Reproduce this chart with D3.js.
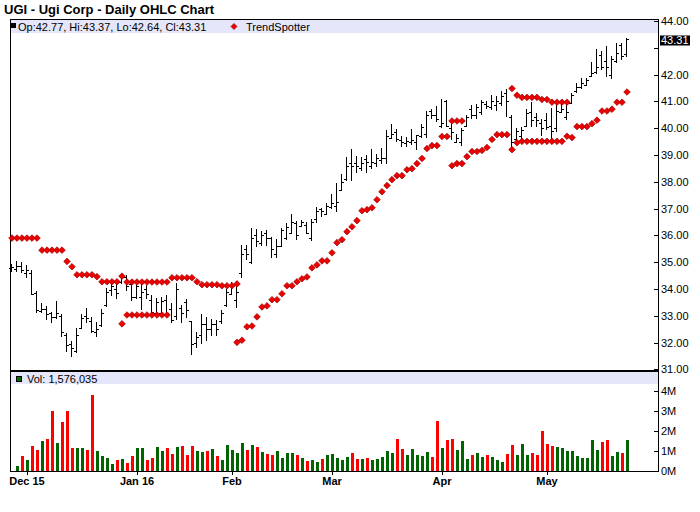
<!DOCTYPE html>
<html>
<head>
<meta charset="utf-8">
<script src="https://cdn.jsdelivr.net/npm/d3@7"></script>
<style>
  body { margin: 0; background: #fff; }
  svg { display: block; font-family: "Liberation Sans", Arial, sans-serif; }
</style>
</head>
<body>
<main></main>
<script>
const title = "UGI - Ugi Corp - Daily OHLC Chart"

// one entry per trading day, 25 Nov 2015 .. 24 May 2016
const opens = [
  34.78, 34.75, 34.85, 34.6, 34.6, 33.85, 33.18, 33.25, 33.1, 32.95,
  33.0, 32.3, 31.95, 31.7, 32.55, 33.0, 32.8, 32.4, 32.65, 33.4,
  33.95, 34.0, 34.25, 34.45, 34.2, 33.7, 33.7, 34.0, 33.6, 33.1,
  33.1, 33.6, 33.25, 33.0, 33.3, 33.5, 32.8, 32.0, 32.3, 32.7,
  32.5, 32.7, 32.8, 33.4, 33.8, 33.6, 34.6, 35.5, 35.0, 36.0,
  35.7, 36.1, 35.9, 35.3, 35.6, 35.9, 36.1, 36.45, 36.35, 36.4,
  35.9, 36.6, 37.0, 36.8, 37.05, 37.1, 37.7, 38.1, 38.7, 38.7,
  38.5, 38.85, 38.6, 38.7, 38.8, 38.9, 39.65, 39.84, 39.55, 39.45,
  39.5, 39.5, 39.7, 39.8, 40.64, 40.5, 40.1, 41.0, 40.0, 39.5,
  39.5, 40.1, 40.71, 40.5, 40.6, 40.9, 40.8, 40.85, 40.95, 41.3,
  40.4, 39.6, 39.7, 40.1, 40.6, 40.4, 40.2, 40.3, 40.1, 40.0,
  40.6, 40.4, 40.95, 41.4, 41.55, 41.6, 41.95, 42.1, 42.75, 42.5,
  42.0, 42.5, 43.1, 42.77,
]
const highs = [
  34.95, 35.03, 35.0, 34.9, 34.72, 33.91, 33.48, 33.36, 33.16, 33.57,
  33.07, 32.35, 32.07, 32.54, 33.05, 33.28, 32.95, 32.76, 33.26, 34.03,
  34.32, 34.22, 34.57, 34.53, 34.32, 34.26, 34.23, 34.16, 33.76, 33.66,
  33.7, 33.78, 33.47, 34.22, 33.41, 33.63, 32.82, 32.39, 33.07, 32.95,
  32.88, 32.85, 33.22, 34.01, 34.26, 34.26, 35.63, 35.66, 36.29, 36.25,
  36.16, 36.19, 35.94, 35.88, 36.29, 36.46, 36.81, 36.54, 36.56, 36.5,
  36.62, 37.06, 37.03, 37.21, 37.56, 37.97, 38.3, 38.93, 39.24, 38.97,
  38.93, 38.99, 39.22, 39.05, 39.27, 39.92, 40.17, 39.96, 39.71, 39.68,
  39.96, 39.76, 40.14, 40.64, 40.71, 40.83, 41.08, 41.05, 40.14, 39.8,
  40.01, 40.51, 40.88, 40.92, 41.05, 41.01, 41.23, 41.2, 41.4, 41.45,
  40.49, 39.99, 40.05, 40.7, 40.98, 40.57, 40.36, 40.57, 40.77, 40.95,
  41.02, 40.98, 41.32, 41.7, 41.89, 41.89, 42.48, 42.94, 42.89, 43.07,
  42.69, 43.17, 43.19, 43.37,
]
const lows = [
  34.63, 34.65, 34.6, 34.4, 33.76, 33.11, 33.11, 32.86, 32.72, 32.88,
  32.2, 31.64, 31.48, 31.61, 32.49, 32.74, 32.36, 32.2, 32.57, 33.32,
  33.73, 33.63, 34.19, 33.94, 33.57, 33.63, 33.2, 33.63, 33.01, 32.98,
  32.98, 33.01, 32.72, 32.85, 32.72, 32.91, 31.54, 31.79, 31.95, 32.05,
  32.26, 32.26, 32.7, 33.32, 33.76, 33.3, 34.42, 35.09, 34.92, 35.56,
  35.59, 35.59, 35.17, 35.17, 35.56, 35.81, 36.04, 35.84, 36.31, 36.04,
  35.78, 36.46, 36.69, 36.75, 37.0, 36.87, 37.64, 38.02, 38.02, 38.34,
  38.39, 38.34, 38.49, 38.55, 38.68, 38.68, 39.59, 39.49, 39.3, 39.3,
  39.39, 39.18, 39.64, 39.64, 40.36, 40.24, 40.01, 40.05, 39.55, 39.43,
  39.34, 40.05, 40.34, 40.36, 40.51, 40.71, 40.67, 40.65, 40.82, 40.42,
  39.12, 39.49, 39.58, 40.05, 40.03, 40.05, 39.7, 39.93, 39.4, 39.86,
  40.55, 40.32, 40.9, 41.3, 41.48, 41.57, 41.92, 42.02, 42.17, 41.92,
  41.82, 42.44, 42.54, 42.64,
]
const closes = [
  34.82, 34.85, 34.72, 34.7, 33.82, 33.22, 33.25, 33.05, 32.95, 33.1,
  32.4, 31.9, 31.8, 32.3, 32.9, 32.9, 32.45, 32.5, 33.1, 33.9,
  34.1, 33.85, 34.45, 34.1, 33.7, 34.1, 33.9, 33.8, 33.15, 33.5,
  33.55, 33.1, 32.85, 34.0, 33.1, 33.2, 31.95, 32.2, 32.7, 32.5,
  32.7, 32.5, 33.1, 33.9, 34.1, 33.9, 35.3, 35.3, 35.9, 35.8,
  36.0, 35.9, 35.5, 35.6, 36.2, 36.3, 36.5, 36.0, 36.5, 36.1,
  36.5, 36.9, 36.9, 37.1, 37.2, 37.25, 38.0, 38.6, 38.6, 38.6,
  38.7, 38.75, 38.75, 38.9, 38.9, 39.7, 39.8, 39.6, 39.5, 39.51,
  39.55, 39.74, 40.05, 40.5, 40.5, 40.36, 40.2, 40.1, 39.86, 39.65,
  39.92, 40.42, 40.5, 40.8, 40.98, 40.83, 41.0, 41.0, 41.2, 41.0,
  39.5, 39.9, 39.95, 40.55, 40.3, 40.3, 40.0, 40.05, 39.9, 40.65,
  40.7, 40.6, 41.25, 41.55, 41.7, 41.8, 42.05, 42.3, 42.3, 42.3,
  42.6, 42.8, 42.7, 43.31,
]
// volume in millions of shares (first day has no bar)
const volumes = [
  null, 0.25, 0.75, 0.55, 1.26, 1.06, 1.51, 1.61, 3.02, 1.41,
  2.46, 3.02, 1.16, 1.16, 1.16, 1.06, 3.82, 1.0, 0.75, 0.65,
  0.35, 0.55, 0.6, 0.4, 0.75, 1.16, 1.16, 0.55, 0.65, 1.21,
  1.0, 1.16, 0.85, 1.21, 1.26, 0.8, 1.26, 1.0, 0.95, 1.0,
  1.1, 0.75, 0.55, 1.31, 1.06, 0.9, 1.41, 1.06, 1.31, 1.21,
  0.95, 0.85, 0.8, 1.0, 0.65, 0.9, 0.9, 0.8, 0.65, 0.5,
  0.55, 0.45, 0.6, 0.8, 0.85, 0.65, 0.55, 0.7, 0.9, 0.6,
  0.6, 0.65, 0.55, 0.6, 0.7, 1.0, 0.9, 1.6, 1.1, 0.8,
  1.1, 0.8, 0.75, 0.95, 0.7, 2.51, 1.16, 1.56, 1.61, 1.06,
  1.51, 0.6, 0.8, 0.9, 0.7, 0.8, 0.7, 0.55, 0.45, 0.85,
  1.31, 0.8, 1.36, 0.8, 0.9, 0.8, 2.01, 1.36, 1.26, 1.21,
  1.16, 1.0, 1.0, 0.75, 0.65, 0.65, 1.56, 1.06, 1.46, 1.56,
  0.75, 0.95, 0.9, 1.576035,
]
const trendUpper = [
  35.9, 35.9, 35.9, 35.9, 35.9, 35.9, 35.45, 35.45, 35.45, 35.45,
  35.45, 35.03, 34.83, 34.53, 34.53, 34.53, 34.53, 34.46, 34.27, 34.27,
  34.27, 34.27, 34.48, 34.26, 34.26, 34.26, 34.26, 34.26, 34.26, 34.26,
  34.26, 34.26, 34.42, 34.42, 34.42, 34.42, 34.42, 34.27, 34.16, 34.16,
  34.16, 34.16, 34.12, 34.12, 34.12, 34.19, null, null, null, null,
  null, null, null, null, null, null, null, null, null, null,
  null, null, null, null, null, null, null, null, null, null,
  null, null, null, null, null, null, null, null, null, null,
  null, null, null, null, null, null, null, null, 40.27, 40.27,
  40.27, null, null, null, null, null, null, null, null, null,
  41.48, 41.23, 41.15, 41.15, 41.15, 41.15, 41.07, 41.07, 40.97, 40.97,
  40.97, 40.97, null, null, null, null, null, null, null, null,
  null, null, null, null,
]
const trendLower = [
  null, null, null, null, null, null, null, null, null, null,
  null, null, null, null, null, null, null, null, null, null,
  null, null, 32.7, 33.03, 33.03, 33.03, 33.03, 33.03, 33.03, 33.03,
  33.03, 33.03, null, null, null, null, null, null, null, null,
  null, null, null, null, null, 32.01, 32.09, 32.59, 32.62, 32.96,
  33.33, 33.37, 33.6, 33.6, 33.82, 34.12, 34.12, 34.27, 34.38, 34.45,
  34.79, 34.9, 35.05, 35.05, 35.35, 35.73, 35.84, 36.14, 36.32, 36.55,
  36.92, 36.96, 37.03, 37.33, 37.63, 37.86, 38.08, 38.23, 38.23, 38.45,
  38.49, 38.68, 38.87, 39.24, 39.35, 39.35, 39.69, 39.69, 38.6, 38.68,
  38.68, 38.94, 39.13, 39.13, 39.17, 39.28, 39.58, 39.76, 39.76, 39.76,
  39.2, 39.46, 39.51, 39.51, 39.51, 39.51, 39.51, 39.51, 39.51, 39.51,
  39.51, 39.7, 39.65, 40.06, 40.06, 40.06, 40.17, 40.3, 40.64, 40.64,
  40.71, 40.97, 40.97, 41.35,
]
const monthLabels = ["Dec 15", "Jan 16", "Feb", "Mar", "Apr", "May"]
const monthIndex = [3, 25, 44, 64, 86, 107]
const priceTicks = [31, 32, 33, 34, 35, 36, 37, 38, 39, 40, 41, 42, 43, 44]
const volumeTicks = [0, 1, 2, 3, 4]

const w = 700
const h = 512
const plotLeft = 10
const plotRight = 658
const panelTop = 19
const sepY = 371
const volBottom = 471
const upColor = "#006400"
const downColor = "#ff0000"
const bandColor = "#e6e6fa"

const svg = d3
  .select("main")
  .append("svg")
  .attr("width", w)
  .attr("height", h)

const x = d3.scaleLinear().domain([-0.4, 129.2]).range([plotLeft, plotRight])
const y = d3.scaleLinear().domain([31, 44]).range([369.4, 21])
const yv = d3.scaleLinear().domain([0, 4]).range([volBottom, 391.4])

const days = opens.map((o, i) => ({
  i,
  o,
  h: highs[i],
  l: lows[i],
  c: closes[i],
  v: volumes[i],
}))
const last = days[days.length - 1]

svg
  .append("text")
  .attr("x", 4)
  .attr("y", 14)
  .attr("font-size", "13px")
  .attr("font-weight", "bold")
  .text(title)

// legend bands
svg
  .append("rect")
  .attr("x", plotLeft + 1)
  .attr("y", panelTop + 1)
  .attr("width", plotRight - plotLeft - 1)
  .attr("height", 13)
  .attr("fill", bandColor)
svg
  .append("rect")
  .attr("x", plotLeft + 1)
  .attr("y", sepY + 1)
  .attr("width", plotRight - plotLeft - 1)
  .attr("height", 12)
  .attr("fill", bandColor)

// frame
const frame = svg.append("g").attr("stroke", "#000").attr("shape-rendering", "crispEdges")
frame.append("line").attr("x1", plotLeft).attr("x2", plotRight + 1).attr("y1", panelTop + 0.5).attr("y2", panelTop + 0.5)
frame.append("line").attr("x1", plotLeft + 0.5).attr("x2", plotLeft + 0.5).attr("y1", panelTop).attr("y2", volBottom + 1)
frame.append("line").attr("x1", plotRight + 0.5).attr("x2", plotRight + 0.5).attr("y1", panelTop).attr("y2", volBottom + 1)
frame.append("line").attr("x1", plotLeft).attr("x2", plotRight + 1).attr("y1", volBottom + 0.5).attr("y2", volBottom + 0.5)
frame
  .append("line")
  .attr("x1", plotLeft)
  .attr("x2", plotRight + 1)
  .attr("y1", sepY - 0.5)
  .attr("y2", sepY - 0.5)
  .attr("stroke-width", 2)

// volume bars
svg
  .append("g")
  .attr("shape-rendering", "crispEdges")
  .selectAll("rect")
  .data(days.filter((d) => d.v !== null))
  .enter()
  .append("rect")
  .attr("x", (d) => x(d.i) - 1)
  .attr("y", (d) => yv(d.v))
  .attr("width", 3)
  .attr("height", (d) => yv(0) - yv(d.v))
  .attr("fill", (d) => (d.c >= d.o ? upColor : downColor))

// OHLC bars
svg
  .append("g")
  .attr("stroke", "#000")
  .attr("fill", "none")
  .attr("shape-rendering", "crispEdges")
  .selectAll("path")
  .data(days)
  .enter()
  .append("path")
  .attr("d", (d) => {
    const cx = Math.round(x(d.i)) - 0.5
    const yo = Math.round(y(d.o)) + 0.5
    const yc = Math.round(y(d.c)) + 0.5
    return `M${cx},${y(d.h)}V${y(d.l)}M${cx - 2.5},${yo}H${cx}M${cx},${yc}H${cx + 2.5}`
  })

// TrendSpotter markers
const diamond = (s) => `M0,${-s}L${s},0L0,${s}L${-s},0Z`
const trendPoints = []
trendUpper.forEach((v, i) => v !== null && trendPoints.push({ i, v }))
trendLower.forEach((v, i) => v !== null && trendPoints.push({ i, v }))

svg
  .append("g")
  .selectAll("path")
  .data(trendPoints)
  .enter()
  .append("path")
  .attr("transform", (d) => `translate(${x(d.i)},${y(d.v)})`)
  .attr("d", diamond(3.3))
  .attr("fill", "#ee0000")
  .attr("stroke", "#990000")
  .attr("stroke-width", 0.7)

// price axis
const yAxis = svg.append("g").attr("font-size", "11px")
yAxis
  .selectAll("line")
  .data(priceTicks)
  .enter()
  .append("line")
  .attr("x1", plotRight - 4)
  .attr("x2", plotRight)
  .attr("y1", (d) => Math.round(y(d)) + 0.5)
  .attr("y2", (d) => Math.round(y(d)) + 0.5)
  .attr("stroke", "#000")
yAxis
  .selectAll("text")
  .data(priceTicks.filter((t) => Math.abs(y(t) - y(last.c)) > 9))
  .enter()
  .append("text")
  .attr("x", plotRight + 3)
  .attr("y", (d) => y(d))
  .attr("dy", "0.36em")
  .text((d) => d.toFixed(2))

// last close marker on the axis
svg
  .append("rect")
  .attr("x", plotRight + 2)
  .attr("y", y(last.c) - 4)
  .attr("width", 30)
  .attr("height", 10)
  .attr("fill", "#000")
svg
  .append("text")
  .attr("x", plotRight + 3)
  .attr("y", y(last.c) + 1)
  .attr("dy", "0.36em")
  .attr("font-size", "11px")
  .attr("fill", "#fff")
  .text(last.c.toFixed(2))

// volume axis
const vAxis = svg.append("g").attr("font-size", "11px")
vAxis
  .selectAll("line")
  .data(volumeTicks)
  .enter()
  .append("line")
  .attr("x1", plotRight - 4)
  .attr("x2", plotRight)
  .attr("y1", (d) => Math.round(yv(d)) + 0.5)
  .attr("y2", (d) => Math.round(yv(d)) + 0.5)
  .attr("stroke", "#000")
vAxis
  .selectAll("text")
  .data(volumeTicks)
  .enter()
  .append("text")
  .attr("x", plotRight + 3)
  .attr("y", (d) => yv(d))
  .attr("dy", "0.36em")
  .text((d) => `${d}M`)

// month axis
const xAxis = svg.append("g").attr("font-size", "11px").attr("font-weight", "bold")
xAxis
  .selectAll("line")
  .data(monthIndex)
  .enter()
  .append("line")
  .attr("x1", (d) => Math.round(x(d)) + 0.5)
  .attr("x2", (d) => Math.round(x(d)) + 0.5)
  .attr("y1", volBottom)
  .attr("y2", volBottom + 4)
  .attr("stroke", "#000")
xAxis
  .selectAll("text")
  .data(monthIndex)
  .enter()
  .append("text")
  .attr("x", (d) => x(d))
  .attr("y", 484.5)
  .attr("text-anchor", "middle")
  .text((d, k) => monthLabels[k])

// legends
svg.append("rect").attr("x", 11).attr("y", 23).attr("width", 5).attr("height", 5).attr("fill", "#000")
svg
  .append("text")
  .attr("x", 18)
  .attr("y", 30.5)
  .attr("font-size", "11px")
  .text(
    `Op:${last.o.toFixed(2)}, Hi:${last.h.toFixed(2)}, Lo:${last.l.toFixed(2)}, Cl:${last.c.toFixed(2)}`
  )
svg
  .append("path")
  .attr("transform", "translate(234,26.5)")
  .attr("d", diamond(3))
  .attr("fill", "#ee0000")
  .attr("stroke", "#990000")
  .attr("stroke-width", 0.7)
svg.append("text").attr("x", 246).attr("y", 30.5).attr("font-size", "11px").text("TrendSpotter")

svg
  .append("rect")
  .attr("x", 16.5)
  .attr("y", 376.5)
  .attr("width", 5)
  .attr("height", 5)
  .attr("fill", upColor)
  .attr("stroke", "#000")
svg
  .append("text")
  .attr("x", 27)
  .attr("y", 383)
  .attr("font-size", "11px")
  .text(`Vol: ${d3.format(",")(Math.round(last.v * 1e6))}`)
</script>
</body>
</html>
